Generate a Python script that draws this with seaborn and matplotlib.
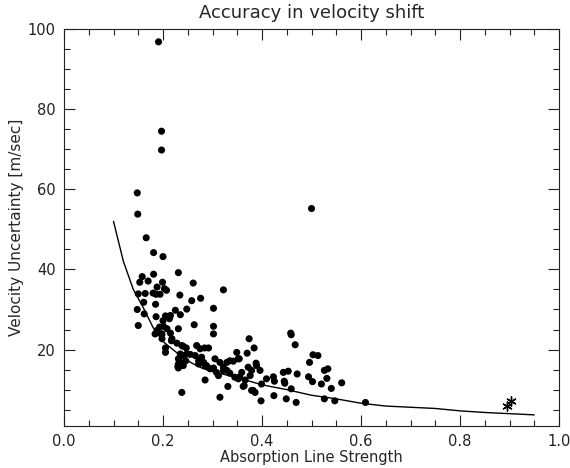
# Accuracy in velocity shift - scatter with model curve

import numpy as np
import pandas as pd
import matplotlib
matplotlib.use("Agg")
import matplotlib.pyplot as plt
from matplotlib.ticker import MultipleLocator
import seaborn as sns

strength = [
    0.191, 0.197, 0.197, 0.148, 0.149, 0.166, 0.181, 0.200, 0.158, 0.181, 0.231, 0.153,
    0.170, 0.199, 0.261, 0.188, 0.203, 0.207, 0.322, 0.150, 0.164, 0.180, 0.186, 0.194,
    0.234, 0.161, 0.185, 0.258, 0.276, 0.302, 0.248, 0.225, 0.148, 0.500,
    0.162, 0.186, 0.205, 0.215, 0.235, 0.200, 0.213, 0.150, 0.263, 0.302, 0.302, 0.188,
    0.193, 0.201, 0.208, 0.184, 0.191, 0.198, 0.231, 0.215, 0.218, 0.198, 0.228, 0.217,
    0.205, 0.205, 0.238, 0.247, 0.241,
    0.235, 0.241, 0.248, 0.255, 0.231, 0.235, 0.230, 0.246, 0.268, 0.275, 0.284, 0.292,
    0.265, 0.272, 0.278, 0.285, 0.295, 0.302, 0.305, 0.308, 0.312, 0.285, 0.238, 0.315,
    0.315, 0.322, 0.329, 0.335, 0.342, 0.352, 0.329, 0.335, 0.345, 0.352, 0.331, 0.349,
    0.354, 0.231, 0.241, 0.231, 0.272, 0.282, 0.288, 0.322,
    0.359, 0.366, 0.362, 0.372, 0.376, 0.379, 0.374, 0.384, 0.370, 0.389, 0.388, 0.382,
    0.386, 0.396, 0.399, 0.398, 0.409, 0.423, 0.425, 0.424, 0.443, 0.453, 0.445, 0.446,
    0.459, 0.449, 0.458, 0.459, 0.467, 0.471, 0.469, 0.503, 0.513, 0.496, 0.494, 0.502,
    0.526, 0.533, 0.531, 0.520, 0.540, 0.526, 0.547, 0.561, 0.609, 0.355, 0.364, 0.379,
]
uncertainty = [
    96.8, 74.5, 69.8, 59.1, 53.8, 47.9, 44.2, 43.2, 38.2, 38.8, 39.2, 36.8,
    37.1, 36.8, 36.6, 35.6, 35.2, 34.8, 34.9, 33.9, 34.0, 34.1, 33.8, 33.8,
    33.6, 31.8, 31.3, 32.2, 32.8, 30.3, 30.1, 29.8, 30.0, 55.2,
    28.9, 28.2, 28.4, 28.5, 28.7, 27.2, 27.7, 26.0, 26.2, 25.8, 23.9, 24.8,
    25.6, 25.8, 25.2, 23.9, 24.3, 23.9, 25.2, 24.1, 22.7, 22.7, 21.6, 22.2,
    20.4, 19.3, 21.0, 20.4, 20.8,
    18.9, 18.5, 18.9, 18.8, 17.7, 16.8, 15.8, 17.2, 21.0, 20.2, 20.4, 20.4,
    18.5, 17.2, 18.1, 16.0, 15.2, 15.4, 17.7, 14.3, 13.5, 12.4, 9.3, 8.1,
    16.8, 15.6, 16.8, 17.2, 17.1, 17.7, 14.8, 14.1, 13.1, 12.7, 10.8, 19.3,
    17.7, 16.4, 16.0, 15.4, 16.4, 16.8, 16.0, 14.8,
    14.3, 12.4, 10.8, 15.6, 13.5, 14.8, 22.7, 20.4, 19.1, 16.0, 16.6, 9.8,
    9.3, 14.8, 11.4, 7.2, 12.7, 13.2, 12.1, 8.5, 14.3, 14.6, 12.1, 11.6,
    10.2, 7.7, 24.1, 23.7, 21.2, 13.9, 6.8, 18.7, 18.5, 16.8, 13.2, 12.0,
    14.8, 15.2, 12.8, 11.4, 10.3, 7.7, 7.2, 11.7, 6.8, 13.2, 11.0, 9.8,
]

# the two reference lines (asterisks)
star_strength = [0.894, 0.904]
star_uncertainty = [5.8, 7.1]

# expected accuracy curve
model_strength = [0.10, 0.12, 0.14, 0.16, 0.18, 0.20, 0.22, 0.24, 0.26, 0.28, 0.30,
                  0.35, 0.40, 0.45, 0.50, 0.55, 0.60, 0.65, 0.70, 0.75, 0.80, 0.85,
                  0.90, 0.95]
model_uncertainty = [52.0, 42.0, 35.0, 30.5, 25.5, 22.0, 20.0, 18.0, 16.5, 15.3, 14.5,
                     13.0, 11.2, 10.0, 8.6, 7.7, 6.6, 5.9, 5.6, 5.3, 4.7, 4.3, 4.0, 3.7]

df = pd.DataFrame({'strength': strength, 'uncertainty': uncertainty})
stars = pd.DataFrame({'strength': star_strength, 'uncertainty': star_uncertainty})
model = pd.DataFrame({'strength': model_strength, 'uncertainty': model_uncertainty})

sns.set_style("ticks")
plt.rcParams['font.family'] = ['DejaVu Sans']

fig = plt.figure(figsize=(5.7, 4.68), dpi=100)
ax = fig.add_axes([0.1123, 0.0904, 0.8684, 0.8476])

sns.lineplot(data=model, x='strength', y='uncertainty', color='black',
             linewidth=1.0, sort=False, ax=ax)
sns.scatterplot(data=df, x='strength', y='uncertainty', color='black',
                s=26, edgecolor='none', ax=ax)
sns.scatterplot(data=stars, x='strength', y='uncertainty', color='black',
                marker=(6, 2, 0), s=45, linewidth=1.0, ax=ax)

ax.set_xlim(0.0, 1.0)
ax.set_ylim(1.0, 100.0)
ax.xaxis.set_major_locator(MultipleLocator(0.2))
ax.xaxis.set_minor_locator(MultipleLocator(0.05))
ax.yaxis.set_major_locator(MultipleLocator(20))
ax.yaxis.set_minor_locator(MultipleLocator(5))
ax.tick_params(which='both', direction='in', top=True, right=True,
               width=0.8, labelsize=10.5, colors='#222222')
ax.tick_params(which='major', length=8)
ax.tick_params(which='minor', length=4)
ax.tick_params(axis='x', which='major', pad=6)
ax.tick_params(axis='y', which='major', pad=6)
for sp in ax.spines.values():
    sp.set_linewidth(0.8)
    sp.set_color('#222222')

ax.set_title('Accuracy in velocity shift', fontsize=13, pad=8)
ax.set_xlabel('Absorption Line Strength', fontsize=10.5, labelpad=1)
ax.set_ylabel('Velocity Uncertainty [m/sec]', fontsize=11, labelpad=3)

fig.savefig('out.png', dpi=100)
